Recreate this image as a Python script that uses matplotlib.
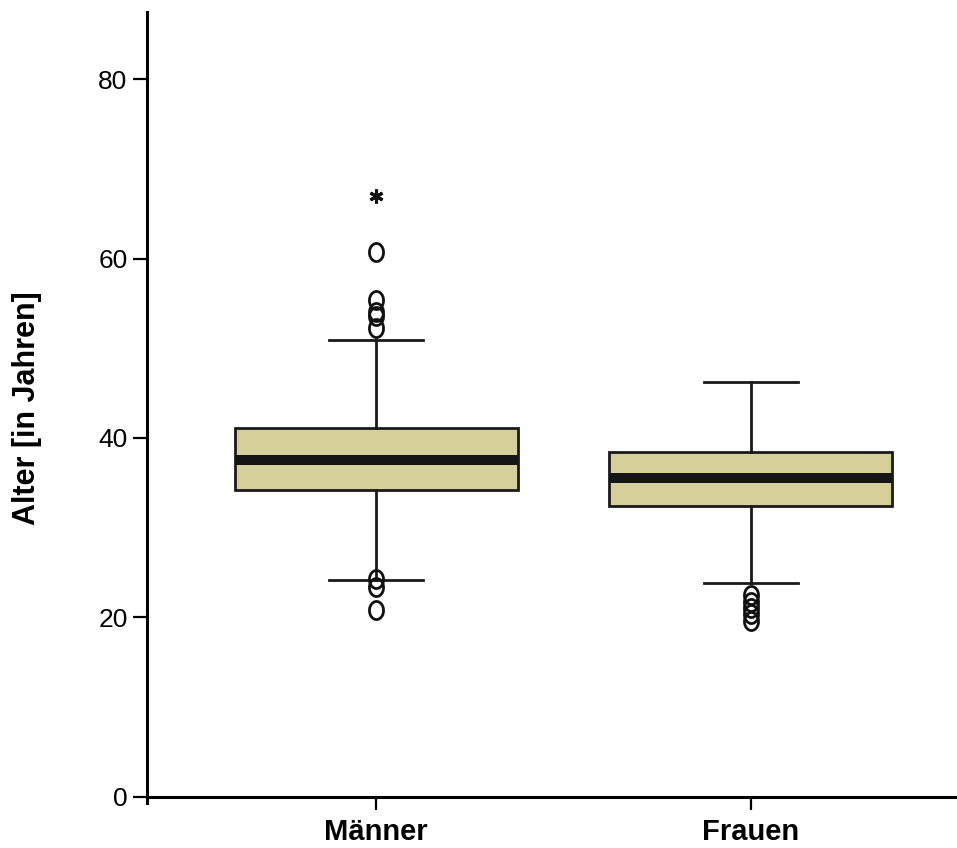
import numpy as np
import matplotlib
matplotlib.use("Agg")
import matplotlib.pyplot as plt
from matplotlib.path import Path

plt.rcParams["font.family"] = ["Liberation Sans", "DejaVu Sans"]

# Werte
gruppen = ["Männer", "Frauen"]
median = [37.5, 35.5]
q1 = [34.2, 32.4]
q3 = [41.1, 38.4]
whisker_unten = [24.2, 23.8]
whisker_oben = [50.9, 46.2]
ausreisser_maenner = [52.3, 53.6, 54.0, 55.4, 60.7, 24.3, 23.4, 20.8]
ausreisser_frauen = [22.5, 21.7, 21.0, 20.4, 19.6]
extrem_maenner = [67.0]
extrem_frauen = []

box_farbe = "#d5cf9a"

stats = []
for i, name in enumerate(gruppen):
    stats.append({
        "label": name,
        "med": median[i],
        "q1": q1[i],
        "q3": q3[i],
        "whislo": whisker_unten[i],
        "whishi": whisker_oben[i],
        "fliers": ausreisser_maenner if i == 0 else ausreisser_frauen,
    })

# Kreis etwas höher als breit (wie "O")
t = np.linspace(0, 2 * np.pi, 60)
o_marker = Path(np.column_stack([0.78 * np.cos(t), np.sin(t)]))

fig = plt.figure(figsize=(9.57, 8.48), dpi=100)
ax = fig.add_axes([147 / 957, 1 - 803 / 848, 810 / 957, (803 - 12) / 848])

ax.bxp(stats, positions=[1, 2], widths=0.755, patch_artist=True,
       boxprops=dict(facecolor=box_farbe, edgecolor="#1a1a1a", linewidth=2),
       medianprops=dict(color="#151515", linewidth=7.2, solid_capstyle="butt"),
       whiskerprops=dict(color="#1a1a1a", linewidth=2),
       capprops=dict(color="#1a1a1a", linewidth=2),
       capwidths=0.25,
       flierprops=dict(marker=o_marker, markersize=13, markerfacecolor="none",
                       markeredgecolor="#111111", markeredgewidth=2))

for pos, werte in zip([1, 2], [extrem_maenner, extrem_frauen]):
    if werte:
        ax.plot([pos] * len(werte), werte, linestyle="none",
                marker=(6, 2, 0), markersize=10, markeredgewidth=2.2, color="#111111")

ax.set_xlim(0.389, 2.55)
ax.set_ylim(-0.7, 87.5)
ax.spines["bottom"].set_position(("data", 0))
ax.spines["top"].set_visible(False)
ax.spines["right"].set_visible(False)
ax.spines["left"].set_linewidth(2.2)
ax.spines["bottom"].set_linewidth(2.2)

ax.set_yticks([0, 20, 40, 60, 80])
ax.tick_params(axis="y", direction="out", length=10, width=1.6, labelsize=19, pad=4)
ax.set_xticks([1, 2])
ax.set_xticklabels(gruppen, fontsize=21, fontweight="bold")
ax.tick_params(axis="x", direction="out", length=9.5, width=1.6, pad=6)

fig.text(27 / 957, 1 - 408 / 848, "Alter [in Jahren]", rotation=90,
         ha="center", va="center", fontsize=22, fontweight="bold")

fig.savefig("out.png", dpi=100)
